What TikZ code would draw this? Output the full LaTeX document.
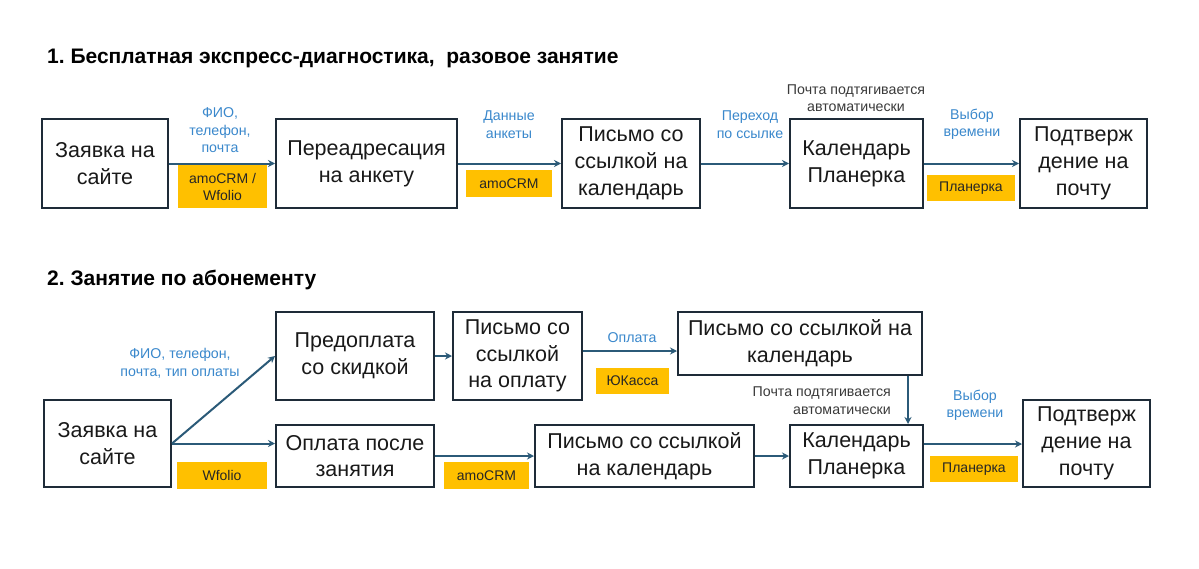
\documentclass[tikz,border=0pt]{standalone}
\usepackage{fontspec}
\setmainfont{Liberation Sans}
\usetikzlibrary{arrows.meta}
\definecolor{boxline}{HTML}{1E2B38}
\definecolor{arrowc}{HTML}{2B5A78}
\definecolor{lblue}{HTML}{3A88CC}
\definecolor{tagy}{HTML}{FFC000}
\definecolor{greyt}{HTML}{3A3A3A}
\tikzset{
  boxn/.style={draw=boxline, line width=2pt, fill=white, align=center, inner sep=0pt,
    font=\fontsize{21.5}{26.8}\selectfont, text=black!90},
  tagn/.style={fill=tagy, align=center, inner sep=0pt, font=\fontsize{14}{17}\selectfont, text=black!85},
  lbl/.style={align=center, inner sep=0pt, font=\fontsize{14.2}{17.5}\selectfont, text=lblue},
  glbl/.style={align=center, inner sep=0pt, font=\fontsize{14.2}{17.5}\selectfont, text=greyt},
  ttl/.style={anchor=west, inner sep=0pt, font=\fontsize{21}{25}\selectfont\bfseries, text=black},
  arr/.style={draw=arrowc, line width=2pt, -{Stealth[length=7pt,width=7pt]}},
}
\begin{document}
\frenchspacing
\begin{tikzpicture}[x=1pt,y=-1pt]
\useasboundingbox[fill=white] (0,0) rectangle (1199,568);
% titles
\node[ttl] (t1) at (47,58) {1. Бесплатная экспресс-диагностика,\ \ разовое занятие};
\node[ttl] (t2) at (47,280) {2. Занятие по абонементу};
% row 1 boxes
\node[boxn, minimum width=126pt, minimum height=89pt] (b1) at (105,163.5) {Заявка на\\сайте};
\node[boxn, minimum width=181pt, minimum height=89pt] (b2) at (366.5,163.5) {Переадресация\\на анкету};
\node[boxn, minimum width=138pt, minimum height=89pt] (b3) at (631,163.5) {Письмо со\\ссылкой на\\календарь};
\node[boxn, minimum width=133pt, minimum height=89pt] (b4) at (856.5,163.5) {Календарь\\Планерка};
\node[boxn, minimum width=127pt, minimum height=89pt] (b5) at (1083.5,163.5) {Подтверж\\дение на\\почту};
% row 1 arrows
\draw[arr] (b1.east) -- (b2.west);
\draw[arr] (b2.east) -- (b3.west);
\draw[arr] (b3.east) -- (b4.west);
\draw[arr] (b4.east) -- (b5.west);
% row 1 tags
\node[tagn, minimum width=89pt, minimum height=43pt] (g1) at (222.5,186.5) {amoCRM /\\Wfolio};
\node[tagn, minimum width=86pt, minimum height=27pt] (g2) at (509,183.5) {amoCRM};
\node[tagn, minimum width=88pt, minimum height=26pt] (g3) at (971,188) {Планерка};
% row 1 labels
\node[lbl] (l1) at (220,130.5) {ФИО,\\телефон,\\почта};
\node[lbl] (l2) at (509,124.5) {Данные\\анкеты};
\node[lbl] (l3) at (750,124.5) {Переход\\по ссылке};
\node[glbl] (l4) at (856,98) {Почта подтягивается\\автоматически};
\node[lbl] (l5) at (972,124.5) {Выбор\\времени};
% row 2 boxes
\node[boxn, minimum width=127pt, minimum height=87pt] (c1) at (107.5,443.5) {Заявка на\\сайте};
\node[boxn, minimum width=158pt, minimum height=88pt] (c2) at (355,356) {Предоплата\\со скидкой};
\node[boxn, minimum width=129pt, minimum height=88pt] (c3) at (517.5,356) {Письмо со\\ссылкой\\на оплату};
\node[boxn, minimum width=244pt, minimum height=63pt] (c4) at (800,343.5) {Письмо со ссылкой на\\календарь};
\node[boxn, minimum width=158pt, minimum height=62pt] (c5) at (355,456) {Оплата после\\занятия};
\node[boxn, minimum width=219pt, minimum height=62pt] (c6) at (644.5,456) {Письмо со ссылкой\\на календарь};
\node[boxn, minimum width=133pt, minimum height=62pt] (c7) at (856.5,456) {Календарь\\Планерка};
\node[boxn, minimum width=127pt, minimum height=87pt] (c8) at (1086.5,443.5) {Подтверж\\дение на\\почту};
% row 2 arrows
\draw[arr] (c1.east) -- (c2.west);
\draw[arr] (c1.east) -- (c1.east -| c5.west);
\draw[arr] (c2.east) -- (c3.west);
\draw[arr] ([yshift=5pt]c3.east) -- ([yshift=5pt]c3.east -| c4.west);
\draw[arr] ([xshift=108pt]c4.south) -- ([xshift=108pt]c4.south |- c7.north);
\draw[arr] (c5.east) -- (c6.west);
\draw[arr] (c6.east) -- (c7.west);
\draw[arr] ([yshift=12pt]c7.east) -- ([yshift=12pt]c7.east -| c8.west);
% row 2 tags
\node[tagn, minimum width=89.5pt, minimum height=27pt] (g4) at (222,475.5) {Wfolio};
\node[tagn, minimum width=85pt, minimum height=27pt] (g5) at (486.5,475.5) {amoCRM};
\node[tagn, minimum width=73pt, minimum height=26pt] (g6) at (632.5,381) {ЮКасса};
\node[tagn, minimum width=88pt, minimum height=26pt] (g7) at (974,469) {Планерка};
% row 2 labels
\node[lbl] (m1) at (180,363.5) {ФИО, телефон,\\почта, тип оплаты};
\node[lbl] (m2) at (632,338) {Оплата};
\node[glbl, align=right, anchor=east] (m3) at (891,400.5) {Почта подтягивается\\автоматически};
\node[lbl] (m4) at (975,405.5) {Выбор\\времени};
\end{tikzpicture}
\end{document}
